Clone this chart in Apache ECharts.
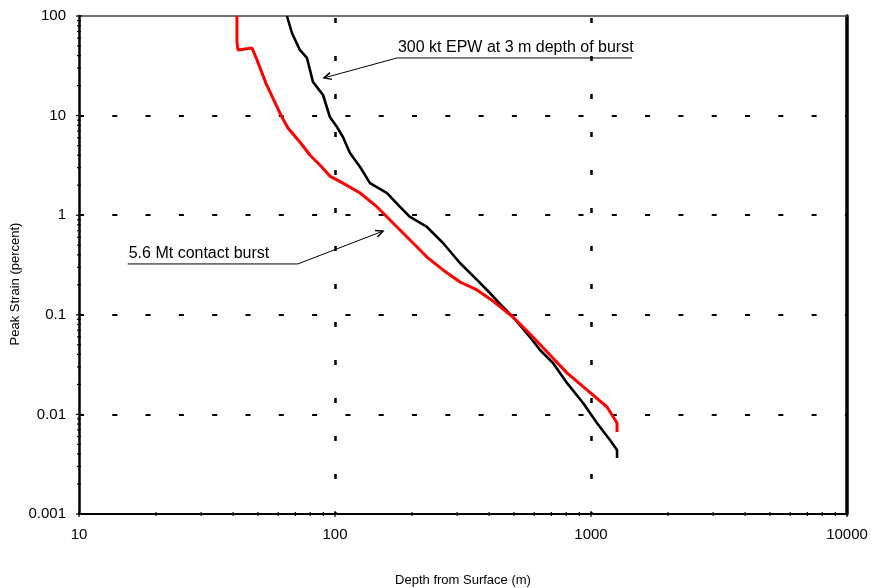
<!DOCTYPE html>
<html>
<head>
<meta charset="utf-8">
<script src="https://cdn.jsdelivr.net/npm/echarts@6/dist/echarts.min.js"></script>
<style>
  html, body { margin: 0; padding: 0; background: #ffffff; }
  #chart { width: 873px; height: 588px; }
</style>
</head>
<body>
<div id="chart"></div>
<script>
// Peak strain versus depth for two burst scenarios (log-log).
const depthEPW = [64.9, 67.9, 72.9, 77.7, 82.0, 89.8, 95.5, 101.8, 107.4, 114.4, 125.3, 137.0, 159.7, 179.5, 196.4, 228.7, 264.2, 307.7, 358.7, 402.8, 452.9, 495.6, 577.8, 632.2, 710.8, 805.5, 931.2, 1055, 1186, 1264, 1264];
const strainEPW = [100, 67.5, 45.6, 37.9, 21.8, 16.1, 9.68, 7.69, 6.10, 4.21, 3.05, 2.10, 1.67, 1.21, 0.96, 0.762, 0.526, 0.331, 0.224, 0.1655, 0.1197, 0.0951, 0.0598, 0.0443, 0.0328, 0.0207, 0.0130, 0.0082, 0.00553, 0.00439, 0.00365];

const depthContact = [41.4, 41.4, 41.8, 47.4, 49.6, 53.7, 57.2, 61.5, 65.5, 72.9, 79.8, 87.3, 95.5, 107.4, 125.3, 146.0, 168.5, 196.4, 228.7, 264.2, 307.7, 358.7, 414.0, 495.6, 577.8, 691.8, 805.5, 964.3, 1155, 1264, 1264];
const strainContact = [100, 54.8, 45.6, 47.7, 36.2, 21.2, 15.0, 10.1, 7.51, 5.43, 4.02, 3.19, 2.47, 2.10, 1.67, 1.21, 0.835, 0.564, 0.380, 0.282, 0.2135, 0.1775, 0.1376, 0.0951, 0.0641, 0.0394, 0.0261, 0.0176, 0.01187, 0.0082, 0.00666];

const xTickLabels = ['10', '100', '1000', '10000'];
const yTickLabels = ['0.001', '0.01', '0.1', '1', '10', '100'];

const xMajorTicks = [10, 100, 1000, 10000];
const yMajorTicks = [0.001, 0.01, 0.1, 1, 10, 100];
const xMinorTicks = [20, 30, 40, 50, 60, 70, 80, 90,
                     200, 300, 400, 500, 600, 700, 800, 900,
                     2000, 3000, 4000, 5000, 6000, 7000, 8000, 9000];
const yMinorTicks = [0.002, 0.003, 0.004, 0.005, 0.006, 0.007, 0.008, 0.009,
                     0.02, 0.03, 0.04, 0.05, 0.06, 0.07, 0.08, 0.09,
                     0.2, 0.3, 0.4, 0.5, 0.6, 0.7, 0.8, 0.9,
                     2, 3, 4, 5, 6, 7, 8, 9,
                     20, 30, 40, 50, 60, 70, 80, 90];

// Callout annotations: arrow tip, elbow, far end of the underline (data coordinates)
const calloutText = ['300 kt EPW at 3 m depth of burst', '5.6 Mt contact burst'];
const calloutTip = [[90.6, 23.9], [154, 0.693]];
const calloutElbow = [[174.6, 37.9], [71.6, 0.324]];
const calloutEnd = [[1445, 37.9], [15.5, 0.324]];

const X_MIN = 10, X_MAX = 10000, Y_MIN = 0.001, Y_MAX = 100;
const FONT = 'Liberation Sans, Arial, sans-serif';

function zip(xs, ys) { return xs.map((x, i) => [x, ys[i]]); }

// tick items: [x, y, kind] kind: 0 = x major, 1 = x minor, 2 = y major, 3 = y minor
const tickData = []
  .concat(xMajorTicks.map(v => [v, Y_MIN, 0]))
  .concat(xMinorTicks.map(v => [v, Y_MIN, 1]))
  .concat(yMajorTicks.map(v => [X_MIN, v, 2]))
  .concat(yMinorTicks.map(v => [X_MIN, v, 3]));

const calloutData = calloutText.map((t, i) => [
  calloutTip[i][0], calloutTip[i][1],
  calloutElbow[i][0], calloutElbow[i][1],
  calloutEnd[i][0], calloutEnd[i][1], i
]);

function renderTick(params, api) {
  const kind = api.value(2);
  const p = api.coord([api.value(0), api.value(1)]);
  const half = (kind === 0 || kind === 2) ? 3 : 2;
  const shape = kind < 2
    ? { x1: p[0], y1: p[1] - half, x2: p[0], y2: p[1] + half }
    : { x1: p[0] - half, y1: p[1], x2: p[0] + half, y2: p[1] };
  return { type: 'line', shape: shape, style: { stroke: '#000', lineWidth: 1.2 } };
}

function renderCallout(params, api) {
  const tip = api.coord([api.value(0), api.value(1)]);
  const elbow = api.coord([api.value(2), api.value(3)]);
  const end = api.coord([api.value(4), api.value(5)]);
  const idx = api.value(6);
  const ang = Math.atan2(elbow[1] - tip[1], elbow[0] - tip[0]);
  const len = 8, spread = 0.45;
  const a1 = [tip[0] + len * Math.cos(ang + spread), tip[1] + len * Math.sin(ang + spread)];
  const a2 = [tip[0] + len * Math.cos(ang - spread), tip[1] + len * Math.sin(ang - spread)];
  const left = Math.min(elbow[0], end[0]);
  return {
    type: 'group',
    children: [
      { type: 'polyline', shape: { points: [end, elbow, tip] },
        style: { stroke: '#000', lineWidth: 1, fill: null } },
      { type: 'polyline', shape: { points: [a1, tip, a2] },
        style: { stroke: '#000', lineWidth: 1.5, fill: null } },
      { type: 'text', x: left + 1, y: elbow[1] - 2,
        style: { text: calloutText[idx], fill: '#000', font: '16px ' + FONT,
                 align: 'left', verticalAlign: 'bottom' } }
    ]
  };
}

const chart = echarts.init(document.getElementById('chart'), null, { renderer: 'canvas' });

const labelLookup = (labels, majors) => v => {
  for (let i = 0; i < majors.length; i++) {
    if (Math.abs(Math.log10(v) - Math.log10(majors[i])) < 1e-6) return labels[i];
  }
  return '';
};

chart.setOption({
  animation: false,
  backgroundColor: '#ffffff',
  grid: { left: 79, right: 26, top: 16, bottom: 74, containLabel: false, outerBoundsMode: 'none' },
  xAxis: [
    {
      type: 'log', logBase: 10, min: X_MIN, max: X_MAX, position: 'bottom',
      name: 'Depth from Surface (m)', nameLocation: 'middle', nameGap: 60,
      nameTextStyle: { fontFamily: FONT, fontSize: 13, color: '#000' },
      axisLine: { show: true, lineStyle: { color: '#000', width: 2 } },
      axisTick: { show: false },
      axisLabel: { fontFamily: FONT, fontSize: 15, color: '#000', margin: 13,
                   formatter: labelLookup(xTickLabels, xMajorTicks) },
      splitLine: { show: true, showMinLine: false, showMaxLine: false,
                   lineStyle: { color: '#000', width: 2.5, type: [5, 33], dashOffset: 36 } },
      minorTick: { show: false }, minorSplitLine: { show: false }
    },
    {
      type: 'log', logBase: 10, min: X_MIN, max: X_MAX, position: 'top',
      axisLine: { show: true, lineStyle: { color: '#444', width: 1.5 } },
      axisTick: { show: false }, axisLabel: { show: false }, splitLine: { show: false }
    }
  ],
  yAxis: [
    {
      type: 'log', logBase: 10, min: Y_MIN, max: Y_MAX, position: 'left',
      axisLine: { show: true, lineStyle: { color: '#000', width: 2.5 } },
      axisTick: { show: false },
      axisLabel: { fontFamily: FONT, fontSize: 15, color: '#000', margin: 13,
                   formatter: labelLookup(yTickLabels, yMajorTicks) },
      splitLine: { show: true, showMinLine: false, showMaxLine: false,
                   lineStyle: { color: '#000', width: 2, type: [5, 28.3], dashOffset: 0 } }
    },
    {
      type: 'log', logBase: 10, min: Y_MIN, max: Y_MAX, position: 'right',
      axisLine: { show: true, lineStyle: { color: '#000', width: 3.5 } },
      axisTick: { show: false }, axisLabel: { show: false }, splitLine: { show: false }
    }
  ],
  graphic: [
    { type: 'text', x: 15, y: 284, rotation: Math.PI / 2,
      style: { text: 'Peak Strain (percent)', font: '13px ' + FONT, fill: '#000',
               align: 'center', verticalAlign: 'middle' } }
  ],
  series: [
    {
      name: '300 kt EPW at 3 m depth of burst', type: 'line', xAxisIndex: 0, yAxisIndex: 0,
      data: zip(depthEPW, strainEPW), showSymbol: false, symbol: 'none',
      lineStyle: { color: '#000000', width: 2.6 }, z: 3
    },
    {
      name: '5.6 Mt contact burst', type: 'line', xAxisIndex: 0, yAxisIndex: 0,
      data: zip(depthContact, strainContact), showSymbol: false, symbol: 'none',
      lineStyle: { color: '#ff0000', width: 3 }, z: 4
    },
    {
      type: 'custom', xAxisIndex: 0, yAxisIndex: 0, clip: false, silent: true,
      data: tickData, renderItem: renderTick, z: 6
    },
    {
      type: 'custom', xAxisIndex: 0, yAxisIndex: 0, clip: false, silent: true,
      data: calloutData, renderItem: renderCallout, z: 5,
      encode: { x: 0, y: 1 }
    }
  ]
});
</script>
</body>
</html>
